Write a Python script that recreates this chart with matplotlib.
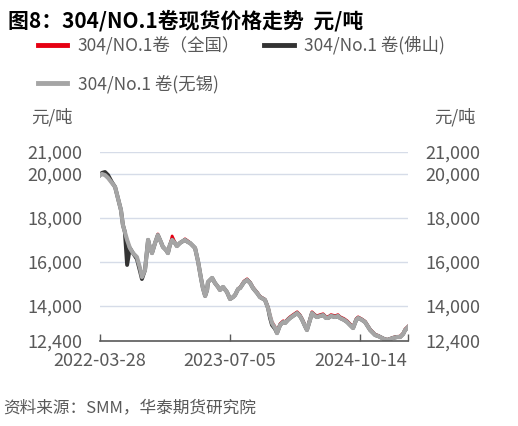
import matplotlib
matplotlib.use('Agg')
import matplotlib.pyplot as plt
import pandas as pd

plt.rcParams['font.family'] = ['Noto Sans CJK SC', 'DejaVu Sans']
plt.rcParams['axes.unicode_minus'] = False

# dados
datas = ['2022-03-28', '2022-04-04', '2022-04-15', '2022-04-26', '2022-05-10', '2022-05-21', '2022-05-31', '2022-06-11', '2022-06-18', '2022-06-25',
         '2022-07-03', '2022-07-13', '2022-07-24', '2022-08-07', '2022-08-18', '2022-08-25', '2022-09-05', '2022-09-16', '2022-09-23', '2022-09-30',
         '2022-10-11', '2022-10-21', '2022-11-01', '2022-11-08', '2022-11-19', '2022-11-26', '2022-12-03', '2022-12-11', '2022-12-21', '2022-12-28',
         '2023-01-08', '2023-01-19', '2023-01-26', '2023-02-06', '2023-02-13', '2023-02-24', '2023-03-03', '2023-03-14', '2023-03-24', '2023-03-31',
         '2023-04-08', '2023-04-15', '2023-04-18', '2023-05-03', '2023-05-13', '2023-05-24', '2023-05-31', '2023-06-11', '2023-06-25', '2023-07-06',
         '2023-07-17', '2023-07-24', '2023-08-04', '2023-08-11', '2023-08-25', '2023-09-05', '2023-09-16', '2023-09-26', '2023-10-11', '2023-10-21',
         '2023-11-08', '2023-11-19', '2023-11-26', '2023-12-03', '2023-12-14', '2023-12-21', '2024-01-01', '2024-01-12', '2024-01-19', '2024-01-29',
         '2024-02-06', '2024-02-16', '2024-03-02', '2024-03-12', '2024-03-20', '2024-03-30', '2024-04-06', '2024-04-17', '2024-04-24', '2024-05-05',
         '2024-05-12', '2024-05-23', '2024-06-03', '2024-06-13', '2024-06-21', '2024-07-01', '2024-07-16', '2024-07-26', '2024-08-02', '2024-08-17',
         '2024-08-28', '2024-09-07', '2024-09-18', '2024-09-29', '2024-10-06', '2024-10-20', '2024-10-31', '2024-11-11', '2024-11-18', '2024-11-29',
         '2024-12-06', '2024-12-16', '2024-12-24', '2025-01-07', '2025-01-18', '2025-01-28', '2025-02-08', '2025-02-22', '2025-03-05', '2025-03-16',
         '2025-03-23', '2025-04-03']

quanguo = [19950, 20000, 19950, 19820, 19590, 19410, 18910, 18360, 17680, 17360,
           17000, 16630, 16400, 16220, 15720, 15310, 15630, 17000, 16630, 16400,
           16860, 17270, 16900, 16680, 16540, 16400, 16770, 17180, 16900, 16720,
           16860, 16950, 17050, 16950, 16860, 16720, 16630, 16000, 15270, 14810,
           14450, 14720, 15080, 15270, 15040, 14860, 14720, 14860, 14630, 14310,
           14400, 14490, 14770, 14850, 15130, 15230, 15080, 14850, 14620, 14440,
           14300, 13950, 13590, 13280, 13050, 12820, 13190, 13320, 13280, 13420,
           13510, 13600, 13730, 13600, 13420, 13140, 12960, 13420, 13730, 13600,
           13550, 13600, 13640, 13510, 13510, 13600, 13550, 13600, 13510, 13420,
           13320, 13190, 13050, 13420, 13500, 13400, 13300, 13080, 12940, 12800,
           12700, 12660, 12600, 12510, 12470, 12510, 12570, 12610, 12620, 12760,
           12950, 13080]

foshan = [19950, 20050, 20090, 19950, 19620, 19410, 18910, 18360, 17680, 17360,
          15860, 16630, 16400, 16130, 15580, 15220, 15630, 17000, 16630, 16400,
          16860, 17220, 16900, 16680, 16540, 16400, 16770, 17000, 16860, 16720,
          16860, 16950, 17000, 16900, 16860, 16720, 16630, 16000, 15270, 14810,
          14450, 14720, 15080, 15270, 15040, 14860, 14720, 14860, 14630, 14310,
          14400, 14490, 14770, 14810, 15080, 15180, 15040, 14810, 14580, 14400,
          14270, 13900, 13450, 13130, 12950, 12760, 13130, 13260, 13220, 13360,
          13450, 13540, 13670, 13540, 13360, 13080, 12900, 13360, 13670, 13540,
          13490, 13540, 13580, 13450, 13450, 13540, 13490, 13540, 13450, 13360,
          13260, 13130, 12990, 13360, 13450, 13360, 13260, 13040, 12900, 12760,
          12670, 12630, 12580, 12490, 12450, 12490, 12540, 12580, 12580, 12720,
          12900, 13040]

wuxi = [19950, 20000, 19950, 19820, 19590, 19410, 18910, 18360, 17680, 17360,
        17000, 16630, 16400, 16220, 15720, 15310, 15630, 17000, 16630, 16400,
        16860, 17220, 16900, 16680, 16540, 16400, 16770, 17000, 16860, 16720,
        16860, 16950, 17000, 16900, 16860, 16720, 16630, 16000, 15270, 14810,
        14450, 14720, 15080, 15270, 15040, 14860, 14720, 14860, 14630, 14310,
        14400, 14490, 14770, 14810, 15080, 15180, 15040, 14810, 14580, 14400,
        14270, 13900, 13540, 13220, 12990, 12760, 13130, 13260, 13220, 13360,
        13450, 13540, 13670, 13540, 13360, 13080, 12900, 13360, 13670, 13540,
        13490, 13540, 13580, 13450, 13450, 13540, 13490, 13540, 13450, 13360,
        13260, 13130, 12990, 13360, 13450, 13360, 13260, 13040, 12900, 12760,
        12670, 12630, 12580, 12490, 12450, 12490, 12540, 12580, 12580, 12720,
        12900, 13040]

yticks = [12400, 14000, 16000, 18000, 20000, 21000]
xtick_labels = ['2022-03-28', '2023-07-05', '2024-10-14']
x_fim = '2025-04-03'

x = pd.to_datetime(datas)
cinza_txt = '#595959'

fig = plt.figure(figsize=(5.18, 4.26), dpi=100)
ax = fig.add_axes([0.193, 0.1995, 0.595, 0.4437])

l_red, = ax.plot(x, quanguo, color='#E60012', lw=2.0, label='304/NO.1卷（全国）')
l_blk, = ax.plot(x, foshan, color='#333333', lw=2.8, label='304/No.1 卷(佛山)')
l_gry, = ax.plot(x, wuxi, color='#A5A5A5', lw=3.0, label='304/No.1 卷(无锡)')

ax.set_ylim(12400, 21000)
ax.set_yticks(yticks)
ax.set_yticklabels([f'{v:,}' for v in yticks])
ax.set_xlim(pd.Timestamp(xtick_labels[0]), pd.Timestamp(x_fim))
ax.set_xticks(pd.to_datetime(xtick_labels + [x_fim]))
ax.set_xticklabels(xtick_labels + [''])

for v in yticks[1:]:
    ax.axhline(v, color='#D6DCE8', lw=1, zorder=0)

for s in ['top', 'left', 'right']:
    ax.spines[s].set_visible(False)
ax.spines['bottom'].set_color(cinza_txt)
ax.spines['bottom'].set_linewidth(1.2)

ax.tick_params(axis='y', left=False, right=False, labelleft=True, labelright=True,
               labelsize=13, labelcolor=cinza_txt, pad=9)
ax.tick_params(axis='x', direction='in', length=5, width=1, color=cinza_txt,
               labelsize=13, labelcolor=cinza_txt, pad=8)

fig.text(0.015, 0.952, '图8：304/NO.1卷现货价格走势  元/吨', fontsize=15,
         fontweight='bold', color='black', va='center', ha='left')

fig.legend(handles=[l_red, l_gry, l_blk], ncol=2, loc='upper left',
           bbox_to_anchor=(0.073, 0.915), frameon=False, fontsize=12.5,
           labelcolor=cinza_txt, handlelength=1.7, handletextpad=0.6,
           columnspacing=1.4, labelspacing=1.15, borderpad=0, borderaxespad=0)
for h in fig.legends[0].legend_handles:
    h.set_linewidth(3.5)

fig.text(52 / 518, 1 - 117 / 426, '元/吨', fontsize=12.5, color=cinza_txt, ha='center', va='center')
fig.text(455 / 518, 1 - 117 / 426, '元/吨', fontsize=12.5, color=cinza_txt, ha='center', va='center')

fig.text(0.006, 1 - 408 / 426, '资料来源：SMM，华泰期货研究院', fontsize=12,
         style='italic', color=cinza_txt, ha='left', va='center')

fig.savefig('out.png', dpi=100)
